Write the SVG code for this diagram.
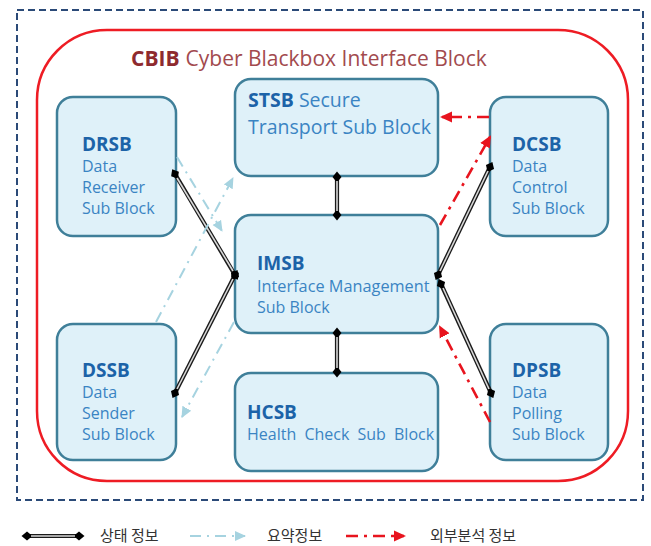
<svg xmlns="http://www.w3.org/2000/svg" width="651" height="546" viewBox="0 0 651 546">
<style>
.node{fill:#dff1f9;stroke:#3f7f99;stroke-width:2.5}
.b{font-family:"Open Sans","Noto Sans",sans-serif;font-weight:bold;fill:#1c63a8}
.t{font-family:"Open Sans","Noto Sans",sans-serif;fill:#3a84c3}
.st{fill:none;stroke:#1a1a1a;stroke-width:4.2}
.sti{fill:none;stroke:#d8d8d8;stroke-width:1.6}
.sum{fill:none;stroke:#a6d3e0;stroke-width:2;stroke-dasharray:11 6 2 6}
.ext{fill:none;stroke:#e8141e;stroke-width:2.6;stroke-dasharray:12 6 3 6}
.kr{font-family:"Noto Sans CJK KR",sans-serif;font-size:15px;fill:#333}
</style>
<defs>
<marker id="dia" viewBox="-6 -5 12 10" markerWidth="12" markerHeight="10" markerUnits="userSpaceOnUse" orient="auto" refX="0" refY="0">
<path d="M-5.5,0 L0,-4.5 L5.5,0 L0,4.5 z" fill="#000"/>
</marker>
<marker id="ab" viewBox="0 -6 12 12" markerWidth="12" markerHeight="12" markerUnits="userSpaceOnUse" orient="auto" refX="10" refY="0">
<path d="M0,-5 L11,0 L0,5 z" fill="#a6d3e0"/>
</marker>
<marker id="ar" viewBox="0 -6 12 12" markerWidth="12" markerHeight="12" markerUnits="userSpaceOnUse" orient="auto" refX="10" refY="0">
<path d="M0,-5.5 L12,0 L0,5.5 z" fill="#e8141e"/>
</marker>
</defs>
<rect x="17" y="10" width="626" height="490" fill="none" stroke="#2b4a78" stroke-width="2" stroke-dasharray="7 4"/>
<rect x="37" y="30" width="591" height="451" rx="70" fill="none" stroke="#ee1c24" stroke-width="2.5"/>
<text x="131" y="66" font-family="'Open Sans','Noto Sans',sans-serif" font-size="21"><tspan font-weight="bold" fill="#8e2a2e">CBIB</tspan><tspan fill="#a24a4e" dx="6">Cyber Blackbox Interface Block</tspan></text>
<g id="STSB"><rect class="node" x="235" y="79" width="203" height="97" rx="16"/>
<text x="248" y="107" font-size="19.5"><tspan class="b">STSB</tspan><tspan class="t" dx="5">Secure</tspan></text>
<text class="t" x="248" y="134" font-size="19.5">Transport Sub Block</text></g>
<g id="DRSB"><rect class="node" x="57" y="97" width="119" height="139" rx="16"/>
<text class="b" x="82" y="151" font-size="19">DRSB</text>
<text class="t" x="82" y="172" font-size="16">Data</text>
<text class="t" x="82" y="193" font-size="16">Receiver</text>
<text class="t" x="82" y="214" font-size="16">Sub Block</text></g>
<g id="DCSB"><rect class="node" x="490" y="97" width="118" height="139" rx="16"/>
<text class="b" x="512" y="151" font-size="19">DCSB</text>
<text class="t" x="512" y="172" font-size="16">Data</text>
<text class="t" x="512" y="193" font-size="16">Control</text>
<text class="t" x="512" y="214" font-size="16">Sub Block</text></g>
<g id="IMSB"><rect class="node" x="235" y="215" width="203" height="118" rx="16"/>
<text class="b" x="257" y="270" font-size="19">IMSB</text>
<text class="t" x="257" y="292" font-size="16.3">Interface Management</text>
<text class="t" x="257" y="313" font-size="16">Sub Block</text></g>
<g id="DSSB"><rect class="node" x="57" y="324" width="119" height="136" rx="16"/>
<text class="b" x="82" y="377" font-size="19">DSSB</text>
<text class="t" x="82" y="398" font-size="16">Data</text>
<text class="t" x="82" y="419" font-size="16">Sender</text>
<text class="t" x="82" y="440" font-size="16">Sub Block</text></g>
<g id="HCSB"><rect class="node" x="235" y="373" width="203" height="98" rx="16"/>
<text class="b" x="247" y="419" font-size="19">HCSB</text>
<text class="t" x="247" y="440" font-size="16" word-spacing="4">Health Check Sub Block</text></g>
<g id="DPSB"><rect class="node" x="490" y="324" width="118" height="136" rx="16"/>
<text class="b" x="512" y="377" font-size="19">DPSB</text>
<text class="t" x="512" y="398" font-size="16">Data</text>
<text class="t" x="512" y="419" font-size="16">Polling</text>
<text class="t" x="512" y="440" font-size="16">Sub Block</text></g>
<g id="connectors">
<path class="st" d="M337,177 L337,215" marker-start="url(#dia)" marker-end="url(#dia)"/>
<path class="sti" d="M337,181 L337,211"/>
<path class="st" d="M337,333 L337,372" marker-start="url(#dia)" marker-end="url(#dia)"/>
<path class="sti" d="M337,337 L337,368"/>
<path class="st" d="M175,174 L235,275" marker-start="url(#dia)" marker-end="url(#dia)"/>
<path class="sti" d="M177,178 L233,271"/>
<path class="st" d="M175,393 L235,275" marker-start="url(#dia)" marker-end="url(#dia)"/>
<path class="sti" d="M177,389 L233,279"/>
<path class="st" d="M490,167 L438,275" marker-start="url(#dia)" marker-end="url(#dia)"/>
<path class="sti" d="M488,171 L440,271"/>
<path class="st" d="M491,393 L441,284" marker-start="url(#dia)" marker-end="url(#dia)"/>
<path class="sti" d="M489,389 L443,288"/>
<path class="sum" d="M177,157 L222,231" marker-end="url(#ab)"/>
<path class="sum" d="M156,322 L233,178" marker-end="url(#ab)"/>
<path class="sum" d="M234,322 L182,417" marker-end="url(#ab)"/>
<path class="ext" d="M489,117 L442,117" marker-end="url(#ar)"/>
<path class="ext" d="M440,225 L490,137" marker-end="url(#ar)"/>
<path class="ext" d="M490,422 L440,327" marker-end="url(#ar)"/>
</g>
<g id="legend">
<path class="st" d="M27,536 L79,536" marker-start="url(#dia)" marker-end="url(#dia)"/>
<path class="sti" d="M31,536 L75,536"/>
<text class="kr" x="100" y="541">상태 정보</text>
<path class="sum" d="M190,536 L245,536" marker-end="url(#ab)"/>
<text class="kr" x="267" y="541">요약정보</text>
<path class="ext" d="M346,536 L404,536" stroke-dasharray="20 7 3 7" marker-end="url(#ar)"/>
<text class="kr" x="430" y="541">외부분석 정보</text>
</g>
</svg>
